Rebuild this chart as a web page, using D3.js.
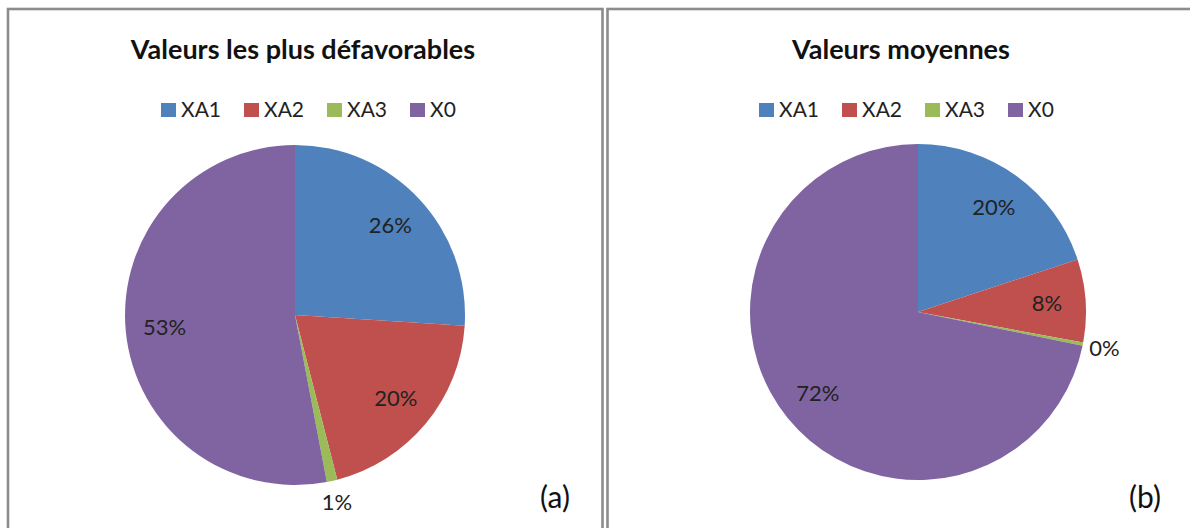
<!DOCTYPE html>
<html><head><meta charset="utf-8">
<script src="https://cdn.jsdelivr.net/npm/d3@7"></script>
<style>body{margin:0;background:#fff;}svg{display:block;}</style>
</head><body>
<svg id="c" width="1190" height="528"></svg>
<script>
const categories = ["XA1", "XA2", "XA3", "X0"];
const valuesA = [26, 20, 1, 53];
const valuesB = [20, 8, 0.3, 72];
const titleA = "Valeurs les plus défavorables";
const titleB = "Valeurs moyennes";
const tagA = "(a)";
const tagB = "(b)";
const colors = ["#4F81BD", "#C0504D", "#9BBB59", "#8064A2"];

const svg = d3.select("#c");
const font = "Lato, 'Open Sans', sans-serif";
const color = d3.scaleOrdinal().domain(categories).range(colors);

function panel(cfg) {
  const g = svg.append("g");
  g.append("rect").attr("x", cfg.x0).attr("y", 9).attr("width", cfg.x1 - cfg.x0).attr("height", 560)
    .attr("fill", "none").attr("stroke", "#8c8c8c").attr("stroke-width", 2.6);
  g.append("text").attr("x", cfg.titleX).attr("y", 59).attr("text-anchor", "middle")
    .attr("font-family", font).attr("font-weight", "bold").attr("font-size", 27).attr("fill", "#111")
    .text(cfg.title);
  // legend
  const lg = g.append("g");
  categories.forEach((c, i) => {
    const lx = cfg.legX + i * 83;
    lg.append("rect").attr("x", lx).attr("y", 103).attr("width", 15).attr("height", 14).attr("fill", color(c));
    lg.append("text").attr("x", lx + 20).attr("y", 117).attr("font-family", font).attr("font-size", 21)
      .attr("fill", "#222").text(c);
  });
  const pie = d3.pie().sort(null).value(d => d.v);
  const data = categories.map((c, i) => ({c, v: cfg.values[i]}));
  const total = d3.sum(cfg.values);
  const arcs = pie(data);
  const arc = d3.arc().innerRadius(0).outerRadius(cfg.r);
  const pg = g.append("g").attr("transform", `translate(${cfg.cx},${cfg.cy})`);
  pg.selectAll("path").data(arcs).join("path").attr("d", arc).attr("fill", d => color(d.data.c));
  const inArc = d3.arc().innerRadius(cfg.r * 0.77).outerRadius(cfg.r * 0.77);
  const outArc = d3.arc().innerRadius(cfg.r + 22).outerRadius(cfg.r + 22);
  pg.selectAll("text").data(arcs).join("text")
    .attr("transform", d => {
      const small = (d.endAngle - d.startAngle) < 0.2;
      const p = (small ? outArc : inArc).centroid(d);
      return `translate(${p[0]},${p[1]})`;
    })
    .attr("text-anchor", "middle").attr("dy", "0.35em")
    .attr("font-family", font).attr("font-size", 22).attr("fill", "#222")
    .text(d => Math.round(d.data.v / total * 100) + "%");
  g.append("text").attr("x", cfg.tagX).attr("y", 508).attr("text-anchor", "middle")
    .attr("font-family", font).attr("font-size", 30).attr("fill", "#111").text(cfg.tag);
}

panel({x0: 8, x1: 602.5, title: titleA, titleX: 303, legX: 161, values: valuesA, cx: 295, cy: 315, r: 170, tag: tagA, tagX: 555});
panel({x0: 607.5, x1: 1300, title: titleB, titleX: 901, legX: 759, values: valuesB, cx: 918, cy: 312, r: 168, tag: tagB, tagX: 1145});
</script>
</body></html>
